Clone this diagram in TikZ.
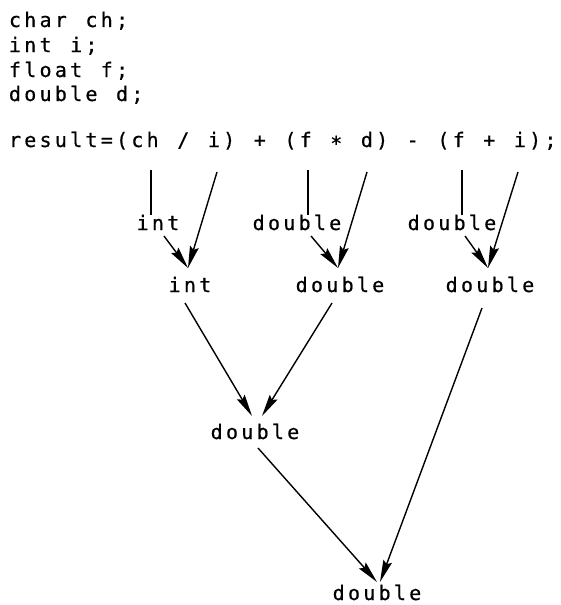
\documentclass[tikz,border=0pt]{standalone}
\usepackage{fontspec}
\newfontfamily\codefont{DejaVu Sans Mono}[FakeBold=0.6]
\usetikzlibrary{arrows.meta}
\newcommand{\pitchw}{15.3pt}
\makeatletter
\def\monotext#1{\monoloop#1\relax}
\def\monoloop#1{\ifx#1\relax\else\makebox[\pitchw]{#1}\expandafter\monoloop\fi}
\makeatother
\newcommand{\midstar}{\raisebox{-3.5pt}{*}}
\tikzset{
  code/.style={inner sep=0pt, outer sep=0pt, anchor=base west, font=\codefont\fontsize{20}{22}\selectfont},
  lbl/.style={inner sep=0pt, outer sep=0pt, anchor=base, font=\codefont\fontsize{20}{22}\selectfont},
  conn/.style={line width=1.4pt, black},
  arr/.style={conn, -{Stealth[length=22pt,width=9pt,inset=3pt]}}
}
\begin{document}
\begin{tikzpicture}[x=1pt,y=-1pt]
\useasboundingbox (0,0) rectangle (561,605);
% declarations
\node[code] (l1) at (7.35,27) {\monotext{char~ch;}};
\node[code] (l2) at (7.35,52) {\monotext{int~i;}};
\node[code] (l3) at (7.35,77) {\monotext{float~f;}};
\node[code] (l4) at (7.35,101) {\monotext{double~d;}};
\node[code] (res) at (7.35,147) {\monotext{result=(ch~/~i)~+~(f~\midstar~d)~-~(f~+~i);}};
% labels
\node[lbl] (c1) at (158,230) {\monotext{int}};
\node[lbl] (c2) at (297,230) {\monotext{double}};
\node[lbl] (c3) at (452,230) {\monotext{double}};
\node[lbl] (r1) at (190,292) {\monotext{int}};
\node[lbl] (r2) at (340,292) {\monotext{double}};
\node[lbl] (r3) at (490,292) {\monotext{double}};
\node[lbl] (m) at (255,439) {\monotext{double}};
\node[lbl] (b) at (377,600) {\monotext{double}};
% connector end points
\coordinate (ch) at (151,170);
\coordinate (i1) at (217,172);
\coordinate (f1) at (308,170);
\coordinate (d1) at (367,172);
\coordinate (f2) at (462,170);
\coordinate (i2) at (518,172);
\coordinate (c1top) at (151,215);
\coordinate (c2top) at (308,215);
\coordinate (c3top) at (462,215);
\coordinate (c1bot) at (164,236);
\coordinate (c2bot) at (311,236);
\coordinate (c3bot) at (465,236);
\coordinate (r1top) at (188,268);
\coordinate (r2top) at (338,268);
\coordinate (r3top) at (488,268);
\coordinate (r1bot) at (185,303);
\coordinate (r2bot) at (332,303);
\coordinate (r3bot) at (482,308);
\coordinate (mtop1) at (252,416);
\coordinate (mtop2) at (262,416);
\coordinate (mbot) at (258,448);
\coordinate (btop1) at (377,582);
\coordinate (btop2) at (380,582);
% connectors
\draw[conn] (ch) -- (c1top);
\draw[conn] (f1) -- (c2top);
\draw[conn] (f2) -- (c3top);
\draw[arr] (i1) -- (r1top);
\draw[arr] (d1) -- (r2top);
\draw[arr] (i2) -- (r3top);
\draw[arr] (c1bot) -- (r1top);
\draw[arr] (c2bot) -- (r2top);
\draw[arr] (c3bot) -- (r3top);
\draw[arr] (r1bot) -- (mtop1);
\draw[arr] (r2bot) -- (mtop2);
\draw[arr] (mbot) -- (btop1);
\draw[arr] (r3bot) -- (btop2);
\end{tikzpicture}
\end{document}
